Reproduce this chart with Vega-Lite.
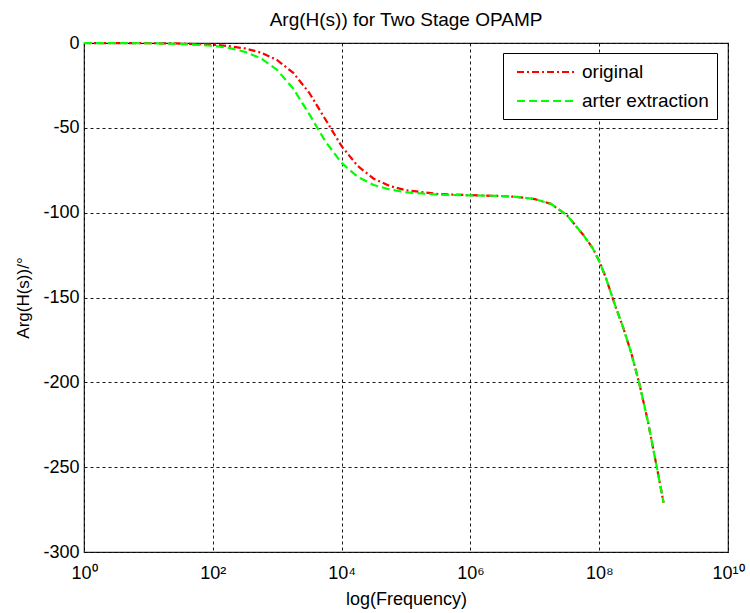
{
  "$schema": "https://vega.github.io/schema/vega-lite/v6.json",
  "width": 644,
  "height": 509,
  "autosize": {"type": "none"},
  "padding": {"left": 84, "top": 43, "right": 22, "bottom": 61},
  "background": "white",
  "config": {
    "font": "Liberation Sans",
    "view": {"stroke": "#222222", "strokeWidth": 1.2},
    "axis": {
      "labelFont": "Liberation Sans",
      "titleFont": "Liberation Sans",
      "labelColor": "#000000",
      "titleColor": "#000000",
      "labelFontSize": 18,
      "titleFontSize": 18,
      "titleFontWeight": "normal",
      "grid": true,
      "gridColor": "#000000",
      "gridDash": [3, 3],
      "gridOpacity": 0.9,
      "gridWidth": 1,
      "domain": false,
      "ticks": false
    }
  },
  "title": {
    "text": "Arg(H(s)) for Two Stage OPAMP",
    "font": "Liberation Sans",
    "fontSize": 19,
    "fontWeight": "normal",
    "color": "#000000",
    "anchor": "middle",
    "frame": "group",
    "baseline": "alphabetic",
    "offset": 15,
    "dy": 26
  },
  "datasets": {
    "original": [
      {"freq": 1, "phase": -0.01, "series": "original"},
      {"freq": 10, "phase": -0.1, "series": "original"},
      {"freq": 31.62, "phase": -0.32, "series": "original"},
      {"freq": 100, "phase": -1.0, "series": "original"},
      {"freq": 177.8, "phase": -1.8, "series": "original"},
      {"freq": 316.2, "phase": -3.2, "series": "original"},
      {"freq": 562.3, "phase": -5.7, "series": "original"},
      {"freq": 1000, "phase": -10.1, "series": "original"},
      {"freq": 1778, "phase": -17.6, "series": "original"},
      {"freq": 3162, "phase": -29.5, "series": "original"},
      {"freq": 5623, "phase": -45.1, "series": "original"},
      {"freq": 10000, "phase": -60.8, "series": "original"},
      {"freq": 17783, "phase": -72.5, "series": "original"},
      {"freq": 31623, "phase": -80.0, "series": "original"},
      {"freq": 56234, "phase": -84.3, "series": "original"},
      {"freq": 100000, "phase": -86.8, "series": "original"},
      {"freq": 316228, "phase": -89.0, "series": "original"},
      {"freq": 1000000, "phase": -89.7, "series": "original"},
      {"freq": 3162000, "phase": -90.2, "series": "original"},
      {"freq": 5623000, "phase": -90.8, "series": "original"},
      {"freq": 10000000, "phase": -92.0, "series": "original"},
      {"freq": 17780000, "phase": -94.8, "series": "original"},
      {"freq": 31620000, "phase": -101.5, "series": "original"},
      {"freq": 56230000, "phase": -113.0, "series": "original"},
      {"freq": 79430000, "phase": -121.0, "series": "original"},
      {"freq": 100000000, "phase": -128.5, "series": "original"},
      {"freq": 125900000, "phase": -138.0, "series": "original"},
      {"freq": 177800000, "phase": -155.0, "series": "original"},
      {"freq": 237100000, "phase": -168.0, "series": "original"},
      {"freq": 316200000, "phase": -183.0, "series": "original"},
      {"freq": 421700000, "phase": -201.0, "series": "original"},
      {"freq": 562300000, "phase": -222.0, "series": "original"},
      {"freq": 794300000, "phase": -251.0, "series": "original"},
      {"freq": 891300000, "phase": -261.0, "series": "original"},
      {"freq": 1000000000, "phase": -271.0, "series": "original"}
    ],
    "extraction": [
      {"freq": 1, "phase": -0.02, "series": "arter extraction"},
      {"freq": 10, "phase": -0.16, "series": "arter extraction"},
      {"freq": 31.62, "phase": -0.52, "series": "arter extraction"},
      {"freq": 100, "phase": -1.64, "series": "arter extraction"},
      {"freq": 177.8, "phase": -2.9, "series": "arter extraction"},
      {"freq": 316.2, "phase": -5.2, "series": "arter extraction"},
      {"freq": 562.3, "phase": -9.1, "series": "arter extraction"},
      {"freq": 1000, "phase": -15.9, "series": "arter extraction"},
      {"freq": 1778, "phase": -26.9, "series": "arter extraction"},
      {"freq": 3162, "phase": -42.1, "series": "arter extraction"},
      {"freq": 5623, "phase": -58.1, "series": "arter extraction"},
      {"freq": 10000, "phase": -70.7, "series": "arter extraction"},
      {"freq": 17783, "phase": -78.9, "series": "arter extraction"},
      {"freq": 31623, "phase": -83.7, "series": "arter extraction"},
      {"freq": 56234, "phase": -86.4, "series": "arter extraction"},
      {"freq": 100000, "phase": -88.0, "series": "arter extraction"},
      {"freq": 316228, "phase": -89.4, "series": "arter extraction"},
      {"freq": 1000000, "phase": -89.8, "series": "arter extraction"},
      {"freq": 3162000, "phase": -90.2, "series": "arter extraction"},
      {"freq": 5623000, "phase": -90.8, "series": "arter extraction"},
      {"freq": 10000000, "phase": -92.0, "series": "arter extraction"},
      {"freq": 17780000, "phase": -94.8, "series": "arter extraction"},
      {"freq": 31620000, "phase": -101.5, "series": "arter extraction"},
      {"freq": 56230000, "phase": -113.0, "series": "arter extraction"},
      {"freq": 79430000, "phase": -121.0, "series": "arter extraction"},
      {"freq": 100000000, "phase": -128.5, "series": "arter extraction"},
      {"freq": 125900000, "phase": -138.0, "series": "arter extraction"},
      {"freq": 177800000, "phase": -155.0, "series": "arter extraction"},
      {"freq": 237100000, "phase": -168.0, "series": "arter extraction"},
      {"freq": 316200000, "phase": -183.0, "series": "arter extraction"},
      {"freq": 421700000, "phase": -201.0, "series": "arter extraction"},
      {"freq": 562300000, "phase": -222.0, "series": "arter extraction"},
      {"freq": 794300000, "phase": -251.0, "series": "arter extraction"},
      {"freq": 891300000, "phase": -261.0, "series": "arter extraction"},
      {"freq": 1000000000, "phase": -271.0, "series": "arter extraction"}
    ]
  },
  "encoding": {
    "x": {
      "field": "freq",
      "type": "quantitative",
      "scale": {"type": "log", "domain": [1, 10000000000], "nice": false},
      "axis": {
        "title": "log(Frequency)",
        "values": [1, 100, 10000, 1000000, 100000000, 10000000000],
        "labelExpr": "['10⁰','10²','10⁴','10⁶','10⁸','10¹⁰'][round(log(datum.value)/LN10/2)]",
        "labelPadding": 12,
        "titlePadding": 8,
        "labelFlush": false,
        "labelOverlap": false
      }
    },
    "y": {
      "field": "phase",
      "type": "quantitative",
      "scale": {"domain": [-300, 0], "nice": false, "zero": false},
      "axis": {
        "title": "Arg(H(s))/°",
        "titleFontSize": 17,
        "values": [-300, -250, -200, -150, -100, -50, 0],
        "labelExpr": "'' + datum.value",
        "labelPadding": 5,
        "titlePadding": 10,
        "labelFlush": false,
        "labelOverlap": false
      }
    },
    "color": {
      "field": "series",
      "type": "nominal",
      "scale": {"domain": ["original", "arter extraction"], "range": ["#ff0000", "#00ff00"]},
      "legend": {
        "title": null,
        "orient": "none",
        "legendX": 419,
        "legendY": 10,
        "symbolType": "M-0.5,0H5.5",
        "symbolSize": 400,
        "symbolStrokeWidth": 2,
        "symbolFillColor": "transparent",
        "labelFontSize": 19,
        "labelFont": "Liberation Sans",
        "labelColor": "#000000",
        "labelOffset": 49,
        "padding": 8,
        "rowPadding": 8,
        "strokeColor": "#000000",
        "fillColor": "#ffffff",
        "cornerRadius": 0
      }
    },
    "strokeDash": {
      "field": "series",
      "type": "nominal",
      "scale": {"domain": ["original", "arter extraction"], "range": [[7, 3, 2, 3], [8, 4]]},
      "legend": null
    }
  },
  "layer": [
    {"data": {"name": "original"}, "mark": {"type": "line", "strokeWidth": 2.2}},
    {"data": {"name": "extraction"}, "mark": {"type": "line", "strokeWidth": 2.2}}
  ]
}
